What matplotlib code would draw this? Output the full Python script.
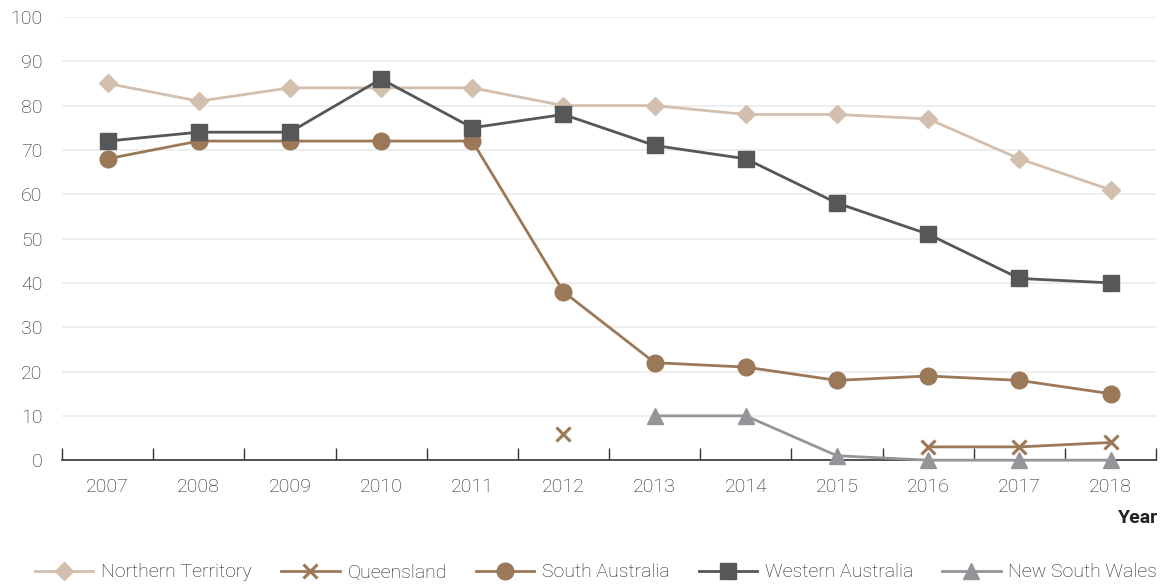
import matplotlib
matplotlib.use('agg')
import matplotlib.pyplot as plt
import numpy as np

plt.rcParams['font.family'] = ['Roboto', 'Liberation Sans', 'DejaVu Sans']
plt.rcParams['font.weight'] = 'light'

years = ['2007', '2008', '2009', '2010', '2011', '2012',
         '2013', '2014', '2015', '2016', '2017', '2018']
nan = np.nan
northern_territory = [85, 81, 84, 84, 84, 80, 80, 78, 78, 77, 68, 61]
queensland = [nan, nan, nan, nan, nan, 6, nan, nan, nan, 3, 3, 4]
south_australia = [68, 72, 72, 72, 72, 38, 22, 21, 18, 19, 18, 15]
western_australia = [72, 74, 74, 86, 75, 78, 71, 68, 58, 51, 41, 40]
new_south_wales = [nan, nan, nan, nan, nan, nan, 10, 10, 1, 0, 0, 0]

fig = plt.figure(figsize=(11.69, 5.84), dpi=100)
ax = fig.add_axes([0.053, 0.212, 0.936, 0.759])

x = np.arange(len(years))
ax.plot(x, northern_territory, color='#d3bfae', lw=2, marker='D', ms=9,
        label='Northern Territory', zorder=3)
ax.plot(x, queensland, color='#9a7858', lw=2, marker='x', ms=10, mew=2.2,
        label='Queensland', zorder=3)
ax.plot(x, south_australia, color='#9a7858', lw=2, marker='o', ms=12,
        label='South Australia', zorder=4)
ax.plot(x, western_australia, color='#555759', lw=2, marker='s', ms=12,
        label='Western Australia', zorder=5)
ax.plot(x, new_south_wales, color='#939598', lw=2, marker='^', ms=11,
        label='New South Wales', zorder=3, clip_on=False)

ax.set_xlim(-0.5, len(years) - 0.5)
ax.set_ylim(0, 100)
ax.set_yticks(range(0, 101, 10))
ax.set_xticks(x)
ax.set_xticklabels(years)
ax.set_xticks(np.arange(-0.5, len(years)), minor=True)
ax.tick_params(axis='x', which='major', length=0, pad=13, labelsize=14,
               labelcolor='#1f1f1f')
ax.tick_params(axis='x', which='minor', direction='in', length=9,
               width=1, color='#333333')
ax.tick_params(axis='y', length=0, pad=14, labelsize=14,
               labelcolor='#1f1f1f')
ax.grid(axis='y', color='#ebebeb', lw=1.2)
ax.set_axisbelow(True)
for s in ['top', 'right', 'left']:
    ax.spines[s].set_visible(False)
ax.spines['bottom'].set_color('#333333')
ax.spines['bottom'].set_linewidth(1.2)

fig.text(0.991, 0.113, 'Year', ha='right', va='center', fontsize=14,
         fontweight='bold', color='#222222')

fig.legend(loc='center', bbox_to_anchor=(0.51, 0.02), ncol=5, frameon=False,
           fontsize=14, handlelength=3.0, columnspacing=1.5,
           handletextpad=0.4, labelcolor='#1f1f1f')

plt.savefig('out.png', dpi=100)
